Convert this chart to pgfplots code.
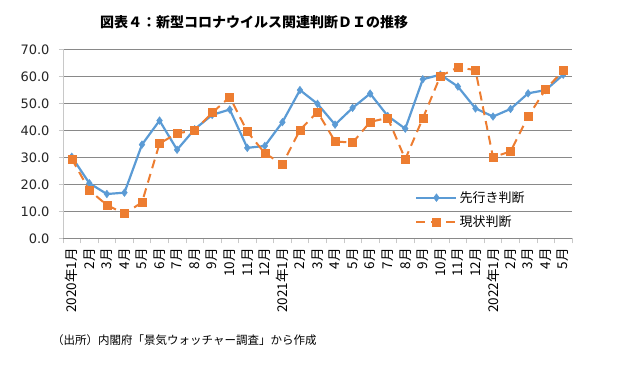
\documentclass[border=0pt]{standalone}
\usepackage{fontspec}
\usepackage{pgfplots}
\usepackage{pgfplotstable}
\pgfplotsset{compat=1.18}
\newfontfamily\jp{Noto Sans CJK JP}
\newfontfamily\dv{DejaVu Sans}
\definecolor{sblue}{HTML}{5B9BD5}
\definecolor{sorange}{HTML}{ED7D31}
\definecolor{gridc}{HTML}{898989}
\definecolor{yaxc}{HTML}{C8C8C8}

\pgfplotstableread{
x saki genjo
0 30.2 29.4
1 20.4 17.8
2 16.4 12.3
3 16.9 9.1
4 34.7 13.3
5 43.6 35.1
6 32.8 38.9
7 40.4 39.9
8 45.7 46.5
9 47.7 52.3
10 33.5 39.5
11 34.2 31.5
12 43.0 27.4
13 54.9 40.1
14 49.8 46.8
15 42.1 35.9
16 48.3 35.4
17 53.6 43.1
18 45.3 44.6
19 40.6 29.3
20 58.9 44.4
21 60.6 60.1
22 56.2 63.3
23 48.1 62.3
24 45.1 30.0
25 47.9 32.2
26 53.7 45.1
27 54.9 55.2
28 60.6 62.1
}\datatable

\begin{document}
\begin{tikzpicture}
\useasboundingbox (0,0) rectangle (631bp,369bp);
\node[font=\jp\bfseries\fontsize{14bp}{16bp}\selectfont] at (254bp,347bp) {図表４：新型コロナウイルス関連判断ＤＩの推移};
\node[anchor=west, inner sep=0pt, font=\jp\fontsize{11.5bp}{13bp}\selectfont] at (52bp,29bp) {（出所）内閣府「景気ウォッチャー調査」から作成};
\begin{axis}[
  at={(63bp,130.7bp)}, anchor=south west,
  scale only axis, width=509bp, height=189bp,
  xmin=-0.5, xmax=28.5, ymin=0, ymax=70,
  clip=false,
  axis lines*=left,
  x axis line style={gridc, line width=0.6bp},
  y axis line style={yaxc, line width=0.6bp},
  xtick={0,...,28},
  xticklabels={2020年1月,2月,3月,4月,5月,6月,7月,8月,9月,10月,11月,12月,2021年1月,2月,3月,4月,5月,6月,7月,8月,9月,10月,11月,12月,2022年1月,2月,3月,4月,5月},
  minor xtick={-0.5,0.5,...,28.5},
  major x tick style={draw=none},
  minor x tick style={yaxc, line width=0.6bp},
  minor tick length=5bp,
  tick align=outside,
  xticklabel style={font=\jp\fontsize{13.5bp}{15bp}\selectfont, rotate=90, anchor=east, inner sep=1bp},
  xticklabel shift=5bp,
  ytick={0,10,...,70},
  major tick length=4bp,
  y tick style={yaxc, line width=0.6bp},
  yticklabel style={font=\dv\fontsize{13bp}{15bp}\selectfont, text=black!85},
  yticklabel shift=6bp,
  /pgf/number format/assume math mode=true,
  /pgf/number format/.cd, fixed, fixed zerofill, precision=1, /pgfplots/.cd,
  ymajorgrids,
  major grid style={gridc, line width=0.6bp},
  legend style={at={(0.686,0.27)}, anchor=north west, draw=none, fill=none,
    font=\jp\fontsize{13bp}{15bp}\selectfont, row sep=8bp},
  legend cell align=left,
  legend image code/.code={\draw[#1, mark repeat=2, mark phase=2] plot coordinates {(0bp,0bp) (20bp,0bp) (40bp,0bp)};},
]
\addplot[sblue, line width=2.2bp, mark=diamond*, mark size=3.8bp, mark options={solid, fill=sblue, draw=sblue, line width=0.5bp}] table[x=x, y=saki] {\datatable};
\addlegendentry{先行き判断}
\addplot[sorange, line width=2bp, dash pattern=on 9bp off 6bp, mark=square*, mark size=4bp, mark options={solid, fill=sorange, draw=sorange, line width=0.5bp}] table[x=x, y=genjo] {\datatable};
\addlegendentry{現状判断}
\end{axis}
\end{tikzpicture}
\end{document}
